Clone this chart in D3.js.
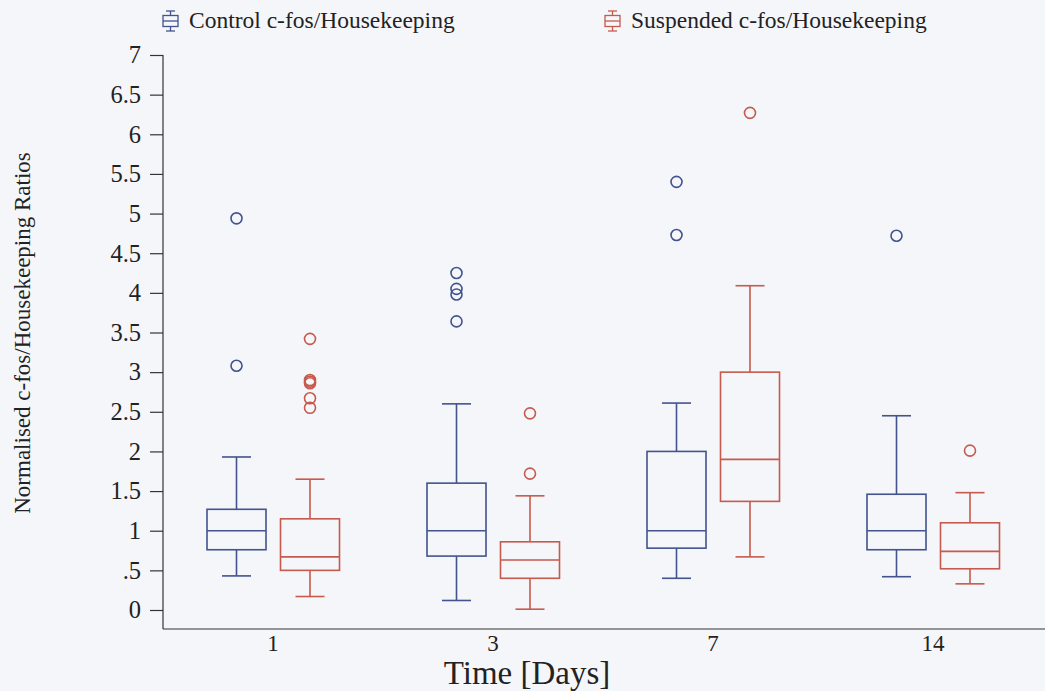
<!DOCTYPE html>
<html>
<head>
<meta charset="utf-8">
<script src="https://cdn.jsdelivr.net/npm/d3@7"></script>
<style>
  body { margin: 0; background: #f5f6fa; }
  svg { display: block; font-family: "Liberation Serif", "Times New Roman", serif; }
</style>
</head>
<body>
<div id="chart"></div>
<script>
// categories and groups
const days = ["1", "3", "7", "14"];
const groups = ["Control c-fos/Housekeeping", "Suspended c-fos/Housekeeping"];

// box stats per day: [whiskerLow, q1, median, q3, whiskerHigh]
const controlStats = [
  [0.43, 0.76, 1.0, 1.27, 1.93],
  [0.12, 0.68, 1.0, 1.60, 2.60],
  [0.40, 0.78, 1.0, 2.0, 2.61],
  [0.42, 0.76, 1.0, 1.46, 2.45]
];
const suspendedStats = [
  [0.17, 0.50, 0.67, 1.15, 1.65],
  [0.01, 0.40, 0.63, 0.86, 1.44],
  [0.67, 1.37, 1.90, 3.0, 4.09],
  [0.33, 0.52, 0.74, 1.10, 1.48]
];
// outliers per day
const controlOutliers = [[3.08, 4.94], [3.64, 3.98, 4.05, 4.25], [4.73, 5.40], [4.72]];
const suspendedOutliers = [[2.55, 2.67, 2.86, 2.88, 2.90, 3.42], [1.72, 2.48], [6.27], [2.01]];

const yTicks = [0, 0.5, 1, 1.5, 2, 2.5, 3, 3.5, 4, 4.5, 5, 5.5, 6, 6.5, 7];
const yTickLabels = ["0", ".5", "1", "1.5", "2", "2.5", "3", "3.5", "4", "4.5", "5", "5.5", "6", "6.5", "7"];

const colors = ["#42538e", "#c65a4c"];

const width = 1045, height = 691;
const svg = d3.select("#chart").append("svg")
  .attr("width", width).attr("height", height);

svg.append("rect").attr("width", width).attr("height", height).attr("fill", "#f5f6fa");

const x0 = d3.scaleBand().domain(days).range([163, 1043]);
const x1 = d3.scalePoint().domain(groups).range([-36.5, 37]);
const y = d3.scaleLinear().domain([0, 7]).range([610, 55]);
const plotBottom = 629;
const boxW = 59;

// y axis
const yAxis = svg.append("g")
  .attr("transform", "translate(163,0)")
  .call(d3.axisLeft(y).tickValues(yTicks)
    .tickFormat((d, i) => yTickLabels[i]).tickSize(13).tickPadding(9));
yAxis.select(".domain").remove();
yAxis.selectAll("line").attr("stroke", "#333").attr("stroke-width", 1.2);
yAxis.selectAll("text").attr("font-size", 24.5).attr("fill", "#222")
  .attr("font-family", "Liberation Serif, serif");
svg.append("line").attr("x1", 163).attr("x2", 163).attr("y1", y(7)).attr("y2", plotBottom)
  .attr("stroke", "#333").attr("stroke-width", 1.2);

// x axis
const xAxis = svg.append("g")
  .attr("transform", `translate(0,${plotBottom})`)
  .call(d3.axisBottom(x0).tickSize(0).tickPadding(6).tickSizeOuter(0));
xAxis.select(".domain").attr("d", `M163,0H1045`).attr("stroke", "#333").attr("stroke-width", 1.2);
xAxis.selectAll("text").attr("font-size", 23).attr("fill", "#222")
  .attr("font-family", "Liberation Serif, serif");

// axis titles
svg.append("text")
  .attr("x", 527).attr("y", 684)
  .attr("text-anchor", "middle")
  .attr("font-size", 33).attr("fill", "#222")
  .text("Time [Days]");

svg.append("text")
  .attr("transform", "translate(30,333) rotate(-90)")
  .attr("text-anchor", "middle")
  .attr("font-size", 23).attr("fill", "#222")
  .text("Normalised c-fos/Housekeeping Ratios");

// boxes
const series = [
  { name: groups[0], stats: controlStats, out: controlOutliers, color: colors[0] },
  { name: groups[1], stats: suspendedStats, out: suspendedOutliers, color: colors[1] }
];

series.forEach(s => {
  const g = svg.append("g").attr("fill", "none").attr("stroke", s.color).attr("stroke-width", 1.6);
  days.forEach((d, i) => {
    const [lo, q1, med, q3, hi] = s.stats[i];
    const cx = x0(d) + x0.bandwidth() / 2 + x1(s.name);
    const b = g.append("g");
    b.append("line").attr("x1", cx).attr("x2", cx).attr("y1", y(hi)).attr("y2", y(q3));
    b.append("line").attr("x1", cx).attr("x2", cx).attr("y1", y(q1)).attr("y2", y(lo));
    b.append("line").attr("x1", cx - 14.5).attr("x2", cx + 14.5).attr("y1", y(hi)).attr("y2", y(hi));
    b.append("line").attr("x1", cx - 14.5).attr("x2", cx + 14.5).attr("y1", y(lo)).attr("y2", y(lo));
    b.append("rect").attr("x", cx - boxW / 2).attr("width", boxW)
      .attr("y", y(q3)).attr("height", y(q1) - y(q3));
    b.append("line").attr("x1", cx - boxW / 2).attr("x2", cx + boxW / 2).attr("y1", y(med)).attr("y2", y(med));
    b.selectAll("circle").data(s.out[i]).join("circle")
      .attr("cx", cx).attr("cy", v => y(v)).attr("r", 5.5);
  });
});

// legend
const legendX = [163, 605];
series.forEach((s, i) => {
  const lg = svg.append("g").attr("transform", `translate(${legendX[i]},0)`);
  const ic = lg.append("g").attr("fill", "none").attr("stroke", s.color).attr("stroke-width", 1.3);
  ic.append("line").attr("x1", 7.5).attr("x2", 7.5).attr("y1", 11).attr("y2", 31);
  ic.append("line").attr("x1", 3).attr("x2", 12).attr("y1", 11).attr("y2", 11);
  ic.append("line").attr("x1", 3).attr("x2", 12).attr("y1", 31).attr("y2", 31);
  ic.append("rect").attr("x", 0).attr("y", 15.5).attr("width", 15).attr("height", 11).attr("fill", "#f5f6fa");
  ic.append("line").attr("x1", 0).attr("x2", 15).attr("y1", 21).attr("y2", 21);
  lg.append("text").attr("x", 26).attr("y", 28)
    .attr("font-size", 23.5).attr("fill", "#222")
    .text(s.name);
});
</script>
</body>
</html>
